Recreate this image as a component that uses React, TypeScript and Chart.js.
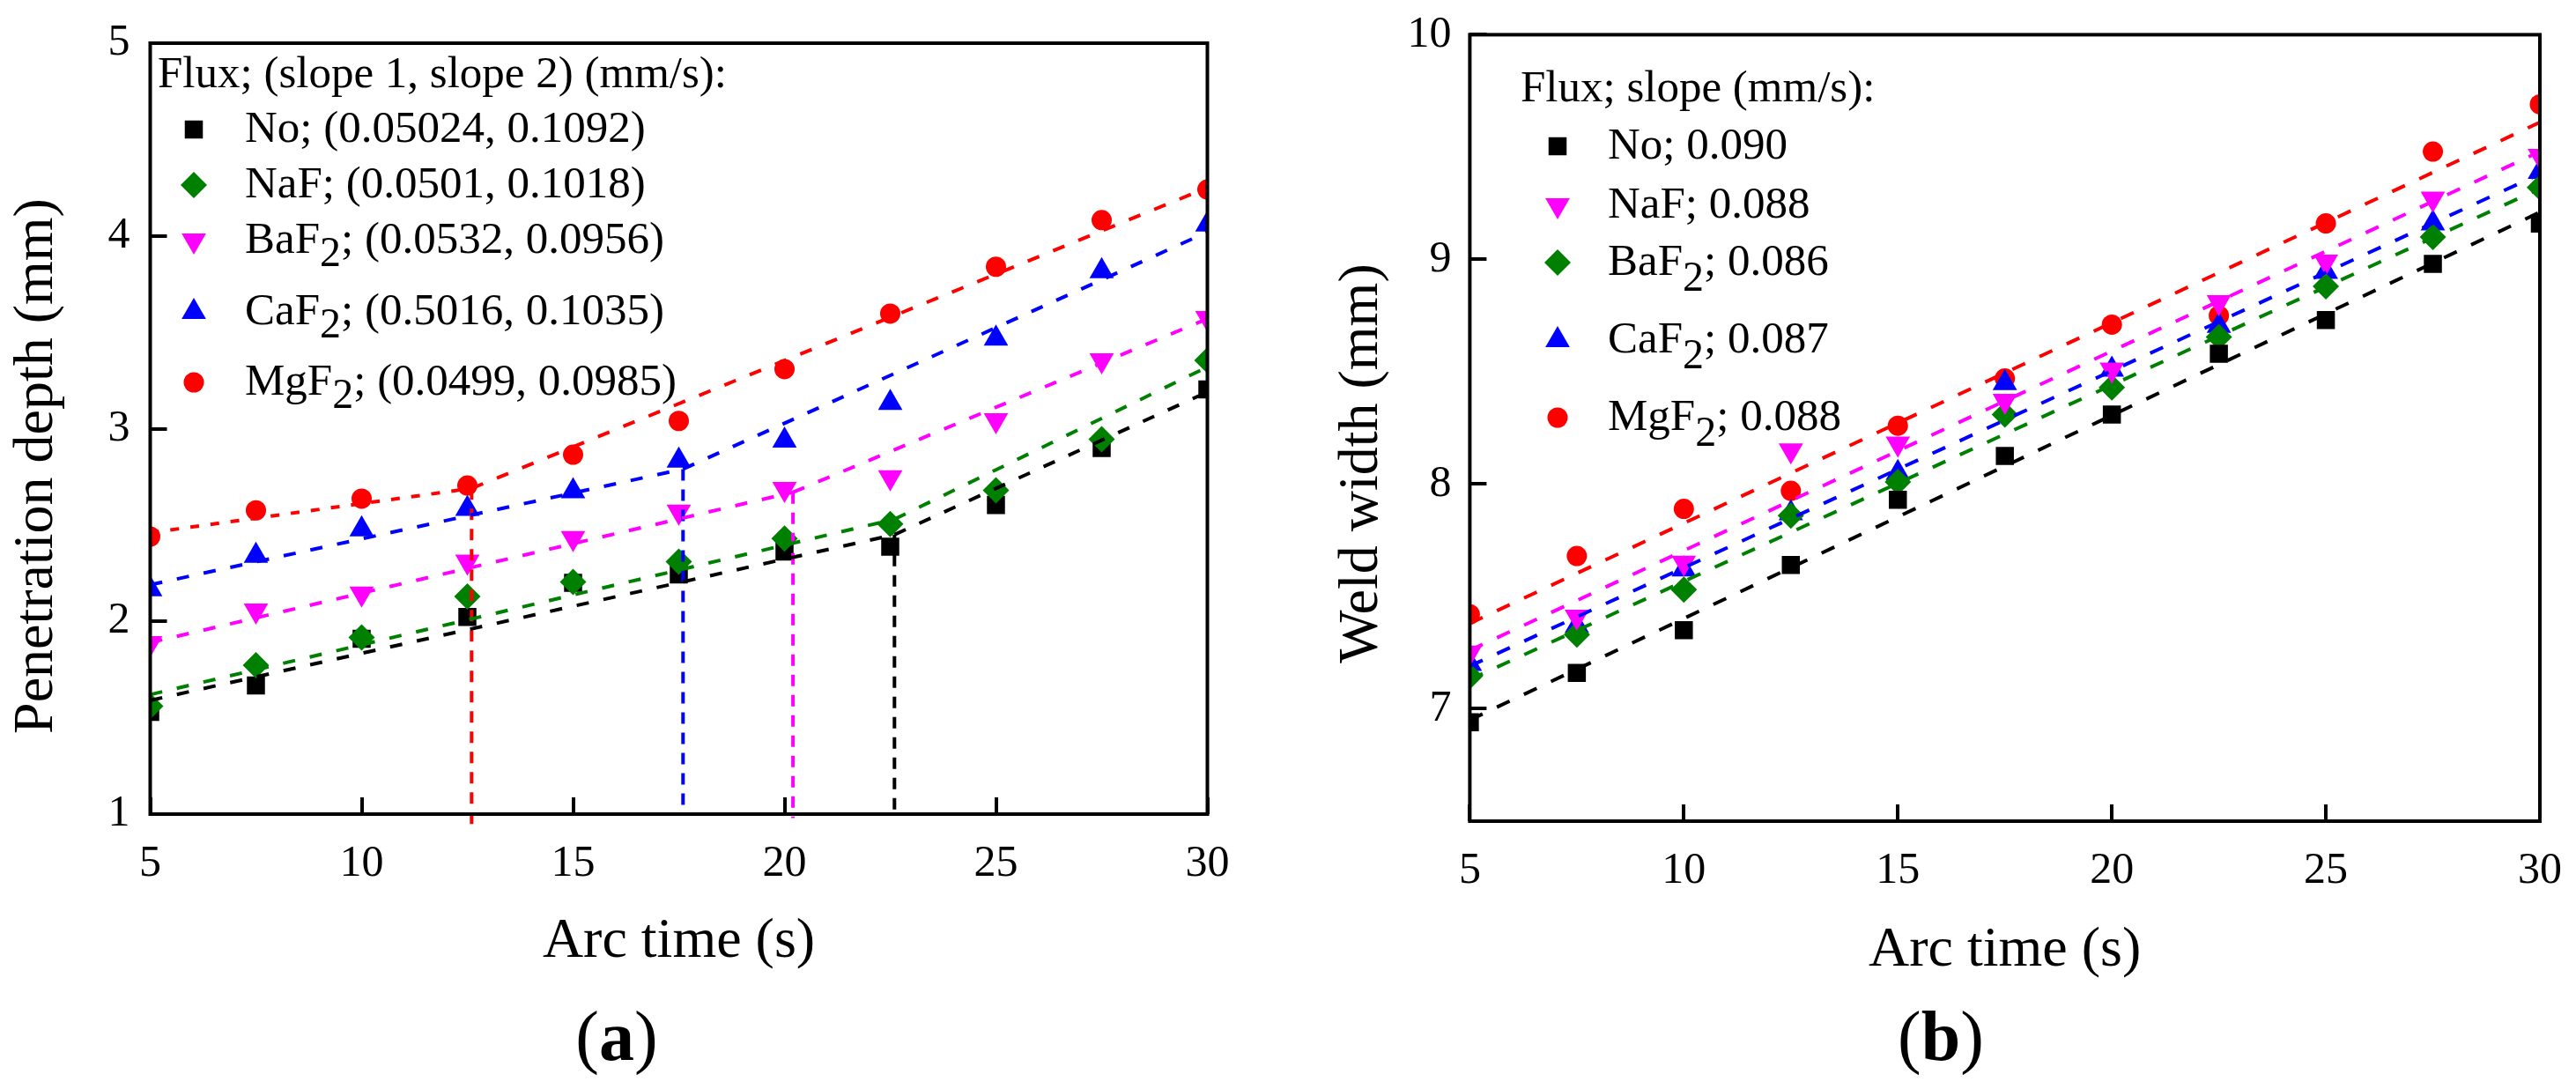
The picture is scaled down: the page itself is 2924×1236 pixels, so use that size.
import React, { useRef, useEffect } from 'react';
import { Chart, registerables } from 'chart.js';

Chart.register(...registerables);

const serif = "'Liberation Serif', 'Times New Roman', serif";

// arc time of every measurement (s)
const arcTime = [5, 7.5, 10, 12.5, 15, 17.5, 20, 22.5, 25, 27.5, 30];
const fluxNames = ['No', 'NaF', 'BaF2', 'CaF2', 'MgF2'];

// (a) penetration depth (mm)
const depthNo = [1.53, 1.667, 1.91, 2.023, 2.2, 2.243, 2.362, 2.387, 2.604, 2.899, 3.203];
const depthNaF = [1.56, 1.773, 1.917, 2.129, 2.205, 2.31, 2.43, 2.505, 2.68, 2.945, 3.354];
const depthBaF2 = [1.887, 2.056, 2.144, 2.31, 2.432, 2.569, 2.687, 2.748, 3.044, 3.354, 3.574];
const depthCaF2 = [2.167, 2.341, 2.478, 2.584, 2.675, 2.834, 2.938, 3.134, 3.468, 3.817, 4.059];
const depthMgF2 = [2.44, 2.576, 2.637, 2.705, 2.865, 3.04, 3.309, 3.597, 3.84, 4.082, 4.241];

// (a) two-slope fits, per flux (No, NaF, BaF2, CaF2, MgF2)
const fitStartDepth = [1.59, 1.62, 1.89, 2.19, 2.46];
const fitBreakTime = [22.6, 22.6, 20.2, 17.6, 12.6];
const fitBreakDepth = [2.45, 2.53, 2.67, 2.79, 2.69];
const fitEndDepth = [3.19, 3.32, 3.57, 4.02, 4.25];
// lower end of the dashed drop line at the break (null = no drop line)
const dropLineEnd = [1, null, 0.98, 1, 0.93];
const slopeTextA = ['(0.05024, 0.1092)', '(0.0501, 0.1018)', '(0.0532, 0.0956)', '(0.5016, 0.1035)', '(0.0499, 0.0985)'];

// (b) weld width (mm)
const widthNo = [6.94, 7.16, 7.35, 7.64, 7.93, 8.125, 8.31, 8.58, 8.73, 8.98, 9.16];
const widthNaF = [7.25, 7.41, 7.65, 8.15, 8.18, 8.37, 8.51, 8.81, 8.99, 9.27, 9.46];
const widthBaF2 = [7.145, 7.33, 7.53, 7.86, 8.01, 8.31, 8.43, 8.655, 8.88, 9.1, 9.32];
const widthCaF2 = [7.2, 7.37, 7.62, 7.87, 8.05, 8.45, 8.51, 8.705, 8.945, 9.16, 9.39];
const widthMgF2 = [7.42, 7.68, 7.89, 7.97, 8.26, 8.47, 8.71, 8.75, 9.16, 9.48, 9.69];

// (b) linear fits at 5 s and 30 s
const widthFitStart = [6.95, 7.26, 7.13, 7.19, 7.38];
const widthFitEnd = [9.21, 9.48, 9.315, 9.38, 9.61];
const slopeTextB = ['0.090', '0.088', '0.086', '0.087', '0.088'];

// tick labels
const timeTicks = [5, 10, 15, 20, 25, 30];
const depthTicks = [1, 2, 3, 4, 5];
const widthTicks = [7, 8, 9, 10];

interface SeriesStyle {
  color: string;
  point: string;
  radius: number;
  rotation?: number;
}

const black: SeriesStyle = { color: '#000000', point: 'rect', radius: 14.5 };
const greenDiamond: SeriesStyle = { color: '#008000', point: 'rectRot', radius: 15 };
const magentaDown: SeriesStyle = { color: '#FF00FF', point: 'triangle', radius: 16, rotation: 180 };
const blueUp: SeriesStyle = { color: '#0000FF', point: 'triangle', radius: 16 };
const redCircle: SeriesStyle = { color: '#FF0000', point: 'circle', radius: 11.5 };

const stylesA = [black, greenDiamond, magentaDown, blueUp, redCircle];
const stylesB = [black, magentaDown, greenDiamond, blueUp, redCircle];

function drawMarker(ctx: CanvasRenderingContext2D, s: SeriesStyle, x: number, y: number) {
  const r = s.radius;
  ctx.fillStyle = s.color;
  ctx.beginPath();
  if (s.point === 'rect') {
    const h = r * Math.SQRT1_2;
    ctx.rect(x - h, y - h, 2 * h, 2 * h);
  } else if (s.point === 'rectRot') {
    ctx.moveTo(x, y - r);
    ctx.lineTo(x + r, y);
    ctx.lineTo(x, y + r);
    ctx.lineTo(x - r, y);
    ctx.closePath();
  } else if (s.point === 'triangle') {
    const d = s.rotation === 180 ? -1 : 1;
    ctx.moveTo(x, y - d * r);
    ctx.lineTo(x + 0.866 * r, y + (d * r) / 2);
    ctx.lineTo(x - 0.866 * r, y + (d * r) / 2);
    ctx.closePath();
  } else {
    ctx.arc(x, y, r, 0, Math.PI * 2);
  }
  ctx.fill();
}

// box round the plot, axis titles and the legend with subscripts
const framePlugin = {
  id: 'frame',
  afterDatasetsDraw(chart: any) {
    const { ctx, chartArea: a } = chart;
    ctx.save();
    ctx.strokeStyle = '#000';
    ctx.lineWidth = 4;
    ctx.strokeRect(a.left, a.top, a.right - a.left, a.bottom - a.top);
    ctx.restore();
  },
  afterDraw(chart: any, _args: any, o: any) {
    const { ctx, chartArea: a } = chart;
    ctx.save();
    ctx.fillStyle = '#000';
    ctx.font = `64px ${serif}`;
    ctx.textAlign = 'center';
    ctx.textBaseline = 'alphabetic';
    ctx.fillText(o.xTitle, (a.left + a.right) / 2, o.xTitleY);

    ctx.save();
    ctx.translate(o.yTitleX, o.yTitleY);
    ctx.rotate(-Math.PI / 2);
    ctx.fillText(o.yTitle, 0, 0);
    ctx.restore();

    ctx.textAlign = 'left';
    ctx.font = `51px ${serif}`;
    ctx.fillText(o.legendTitle, o.legendX, o.legendY);

    fluxNames.forEach((name: string, i: number) => {
      const y = o.rows[i];
      drawMarker(ctx, o.styles[i], o.markerX, y - 14);
      ctx.fillStyle = '#000';
      let x = o.textX;
      const hasSub = name.endsWith('2');
      const base = hasSub ? name.slice(0, -1) : name;
      ctx.font = `51px ${serif}`;
      ctx.fillText(base, x, y);
      x += ctx.measureText(base).width;
      if (hasSub) {
        ctx.font = `48px ${serif}`;
        ctx.fillText('2', x, y + o.subDrop);
        x += ctx.measureText('2').width;
        ctx.font = `51px ${serif}`;
      }
      ctx.fillText('; ' + o.slopes[i], x, y);
    });
    ctx.restore();
  },
};

function markerSets(values: number[][], styles: SeriesStyle[]) {
  return values.map((vals, i) => ({
    label: fluxNames[i],
    data: arcTime.map((t, j) => ({ x: t, y: vals[j] })),
    showLine: false,
    pointStyle: styles[i].point,
    pointRadius: styles[i].radius,
    pointRotation: styles[i].rotation ?? 0,
    pointBackgroundColor: styles[i].color,
    pointBorderColor: styles[i].color,
    pointBorderWidth: 0,
    clip: 0,
  }));
}

function lineSet(points: { x: number; y: number }[], color: string, dash: number[], clip: any) {
  return {
    data: points,
    showLine: true,
    pointRadius: 0,
    borderColor: color,
    borderWidth: 4,
    borderDash: dash,
    fill: false,
    tension: 0,
    clip,
  };
}

// the plot box is placed by the layout padding and these fixed axis sizes;
// the label paddings must not push the box in
function fixSize(s: any, key: 'width' | 'height', size: number) {
  s[key] = size;
  s.paddingTop = 0;
  s.paddingBottom = 0;
  s.paddingLeft = 0;
  s.paddingRight = 0;
}

function axes(yTicks: number[], yMin: number, yMax: number, yWidth: number, xHeight: number, yPad: number) {
  const tickFont = { family: serif, size: 50 };
  const grid = { display: true, drawOnChartArea: false, drawTicks: true, tickLength: -19, color: '#000', lineWidth: 4 };
  return {
    x: {
      type: 'linear',
      position: 'bottom',
      min: 5,
      max: 30,
      grid,
      border: { display: false },
      ticks: { font: tickFont, color: '#000', padding: 46, autoSkip: false, maxRotation: 0, callback: (v: number) => String(v) },
      afterBuildTicks: (s: any) => { s.ticks = timeTicks.map((v) => ({ value: v })); },
      afterFit: (s: any) => fixSize(s, 'height', xHeight),
    },
    y: {
      type: 'linear',
      position: 'left',
      min: yMin,
      max: yMax,
      grid,
      border: { display: false },
      ticks: { font: tickFont, color: '#000', padding: yPad, autoSkip: false, callback: (v: number) => String(v) },
      afterBuildTicks: (s: any) => { s.ticks = yTicks.map((v) => ({ value: v })); },
      afterFit: (s: any) => fixSize(s, 'width', yWidth),
    },
  };
}

function buildDepth() {
  const colors = stylesA.map((s) => s.color);
  const fits = fluxNames.map((_, i) =>
    lineSet(
      [
        { x: fitBreakTime[i], y: fitBreakDepth[i] },
        { x: 30, y: fitEndDepth[i] },
      ],
      colors[i],
      [14, 17],
      undefined
    )
  );
  const firstParts = fluxNames.map((_, i) =>
    lineSet(
      [
        { x: 5, y: fitStartDepth[i] },
        { x: fitBreakTime[i], y: fitBreakDepth[i] },
      ],
      colors[i],
      i === 4 ? [10, 13] : [14, 17],
      undefined
    )
  );
  const drops = fluxNames
    .map((_, i) =>
      dropLineEnd[i] === null
        ? null
        : lineSet(
            [
              { x: fitBreakTime[i], y: fitBreakDepth[i] },
              { x: fitBreakTime[i], y: dropLineEnd[i] as number },
            ],
            colors[i],
            [13, 10],
            false
          )
    )
    .filter(Boolean);
  const markers = markerSets([depthNo, depthNaF, depthBaF2, depthCaF2, depthMgF2], stylesA).reverse();
  return {
    type: 'scatter',
    data: { datasets: [...fits, ...firstParts, ...drops, ...markers] },
    options: {
      responsive: false,
      devicePixelRatio: 1,
      animation: false,
      events: [],
      layout: { autoPadding: false, padding: { top: 49, right: 91.5, left: 0, bottom: 0 } },
      scales: axes(depthTicks, 1, 5, 170.5, 206, 42),
      plugins: {
        legend: { display: false },
        tooltip: { enabled: false },
        frame: {
          xTitle: 'Arc time (s)',
          xTitleY: 1086,
          yTitle: 'Penetration depth (mm)',
          yTitleX: 59,
          yTitleY: 529,
          legendTitle: 'Flux; (slope 1, slope 2) (mm/s):',
          legendX: 179,
          legendY: 99,
          markerX: 220,
          textX: 278,
          rows: [161, 224, 287, 368, 448],
          subDrop: 15,
          slopes: slopeTextA,
          styles: stylesA,
        },
      },
    },
    plugins: [framePlugin],
  };
}

function buildWidth() {
  const fits = fluxNames.map((_, i) =>
    lineSet(
      [
        { x: 5, y: widthFitStart[i] },
        { x: 30, y: widthFitEnd[i] },
      ],
      stylesB[i].color,
      [16, 18],
      undefined
    )
  );
  const markers = markerSets([widthNo, widthNaF, widthBaF2, widthCaF2, widthMgF2], stylesB);
  return {
    type: 'scatter',
    data: { datasets: [...fits, ...markers] },
    options: {
      responsive: false,
      devicePixelRatio: 1,
      animation: false,
      events: [],
      layout: { autoPadding: false, padding: { top: 39.4, right: 41, left: 0, bottom: 0 } },
      scales: axes(widthTicks, 6.5, 10, 206.4, 198, 40),
      plugins: {
        legend: { display: false },
        tooltip: { enabled: false },
        frame: {
          xTitle: 'Arc time (s)',
          xTitleY: 1096,
          yTitle: 'Weld width (mm)',
          yTitleX: 101,
          yTitleY: 526,
          legendTitle: 'Flux; slope (mm/s):',
          legendX: 264,
          legendY: 115,
          markerX: 306,
          textX: 363,
          rows: [180, 247, 312, 400, 488],
          subDrop: 18,
          slopes: slopeTextB,
          styles: stylesB,
        },
      },
    },
    plugins: [framePlugin],
  };
}

const ChartCanvas: React.FC<{ build: () => any }> = ({ build }) => {
  const ref = useRef<HTMLCanvasElement>(null);

  useEffect(() => {
    if (!ref.current) return;
    const chart = new Chart(ref.current, build());
    return () => {
      chart.destroy();
    };
  }, [build]);

  return <canvas ref={ref} width={1462} height={1130} style={{ display: 'block', width: 1462, height: 1130 }} />;
};

const subLabel: React.CSSProperties = {
  position: 'absolute',
  width: 400,
  top: 1136,
  textAlign: 'center',
  fontSize: 80,
  lineHeight: '80px',
  fontFamily: serif,
  color: '#000',
};

export default function App() {
  useEffect(() => {
    document.body.style.margin = '0';
  }, []);

  return (
    <div style={{ position: 'relative', width: 2924, height: 1236, background: '#fff', overflow: 'hidden' }}>
      <div style={{ position: 'absolute', left: 0, top: 0 }}>
        <ChartCanvas build={buildDepth} />
      </div>
      <div style={{ position: 'absolute', left: 1462, top: 0 }}>
        <ChartCanvas build={buildWidth} />
      </div>
      <div style={{ ...subLabel, left: 500 }}>
        (<b>a</b>)
      </div>
      <div style={{ ...subLabel, left: 2003 }}>
        (<b>b</b>)
      </div>
    </div>
  );
}
